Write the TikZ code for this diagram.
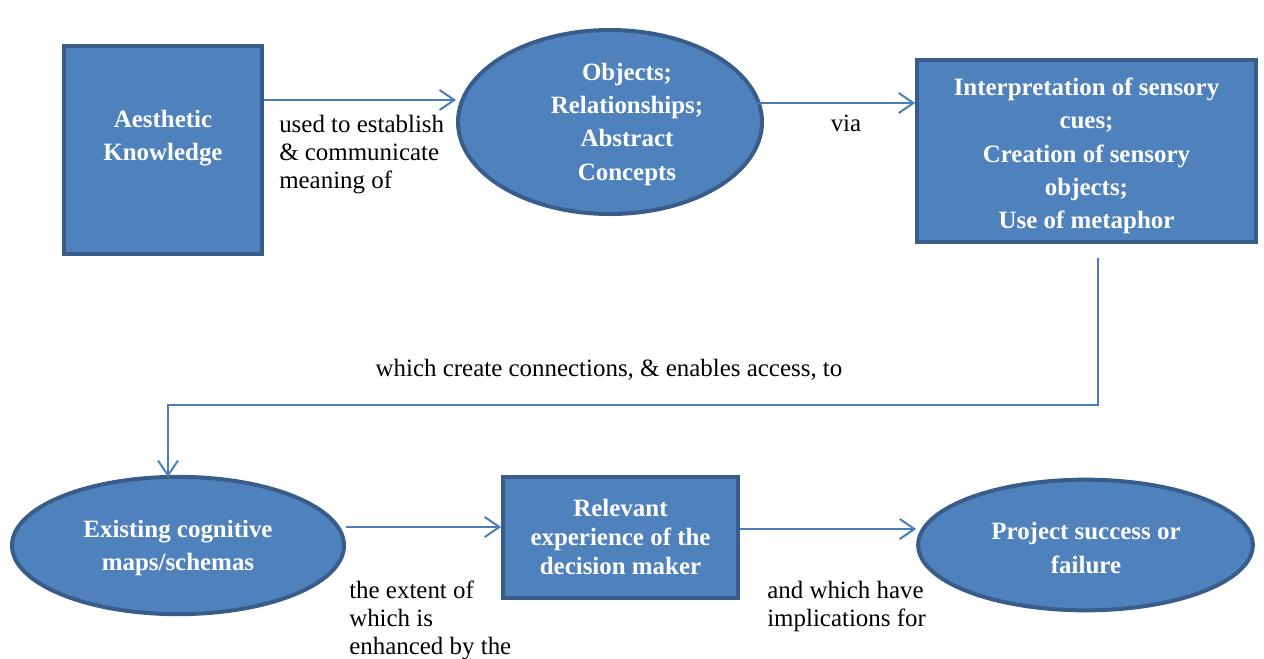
\documentclass[tikz,border=0pt]{standalone}
\usepackage{fontspec}
\setmainfont{Liberation Serif}
\usetikzlibrary{shapes.geometric,arrows.meta}
\definecolor{boxfill}{HTML}{4F81BD}
\definecolor{boxline}{HTML}{385D8A}
\definecolor{linkblue}{HTML}{4A7EBB}
\tikzset{
  shapebox/.style={rectangle, fill=boxfill, draw=boxline, line width=3pt, inner sep=0pt},
  shapeoval/.style={ellipse, fill=boxfill, draw=boxline, line width=3pt, inner sep=0pt},
  boldtext/.style={text=white, font=\fontsize{18.7pt}{25pt}\selectfont\bfseries,
    align=center, inner sep=0pt},
  link/.style={draw=linkblue, line width=1.5pt,
    -{Straight Barb[length=11pt,width=15pt,line width=1.5pt]}},
  note/.style={font=\fontsize{18.7pt}{21pt}\selectfont, inner sep=0pt}
}
\begin{document}
\begin{tikzpicture}[x=0.75pt,y=-0.75pt]
\useasboundingbox (0,0) rectangle (1264,658);

% top row: shapes
\node[shapebox, minimum width=148.5pt, minimum height=156pt] (aes) at (163,150) {};
\node[shapeoval, minimum width=228pt, minimum height=138pt] (obj) at (610,122) {};
\node[shapebox, minimum width=254pt, minimum height=136.5pt] (int) at (1086.5,151) {};
% top row: texts
\node[boldtext] (aestxt) at (163,138) {Aesthetic\\Knowledge};
\node[boldtext] (objtxt) at (627,124) {Objects;\\Relationships;\\Abstract\\Concepts};
\node[boldtext] (inttxt) at (1086.5,156)
  {Interpretation of sensory\\cues;\\Creation of sensory\\objects;\\Use of metaphor};

% bottom row: shapes
\node[shapeoval, minimum width=249pt, minimum height=103pt] (cog) at (178,545.5) {};
\node[shapebox, minimum width=176pt, minimum height=91pt] (rel) at (620.5,537.5) {};
\node[shapeoval, minimum width=251pt, minimum height=98pt] (prj) at (1085.5,545) {};
% bottom row: texts
\node[boldtext] (cogtxt) at (178,548) {Existing cognitive\\maps/schemas};
\node[boldtext, font=\fontsize{18.7pt}{22pt}\selectfont\bfseries] (reltxt) at (620.5,537)
  {Relevant\\experience of the\\decision maker};
\node[boldtext] (prjtxt) at (1086,548) {Project success or\\failure};

% connectors
\draw[link] (aes.east |- 0,100) -- (obj.west |- 0,100);
\coordinate (objout) at (757,103);
\draw[link] (objout) -- (int.west |- objout);
\coordinate (intout) at (1098,258);
\draw[link] (intout) -- (1098,405) -- (168,405) -- (168,477);
\draw[link] (cog.east |- 0,527) -- (rel.west |- 0,527);
\draw[link] (rel.east |- 0,529) -- (prj.west |- 0,529);

% connector labels
\node[note, anchor=west, align=left] (l1) at (279,155)
  {used to establish\\\& communicate\\meaning of};
\node[note] (l2) at (846,123) {via};
\node[note] (l3) at (609,370) {which create connections, \& enables access, to};
\node[note, anchor=west, align=left] (l4) at (349,620)
  {the extent of\\which is\\enhanced by the};
\node[note, anchor=west, align=left] (l5) at (767,606)
  {and which have\\implications for};
\end{tikzpicture}
\end{document}
